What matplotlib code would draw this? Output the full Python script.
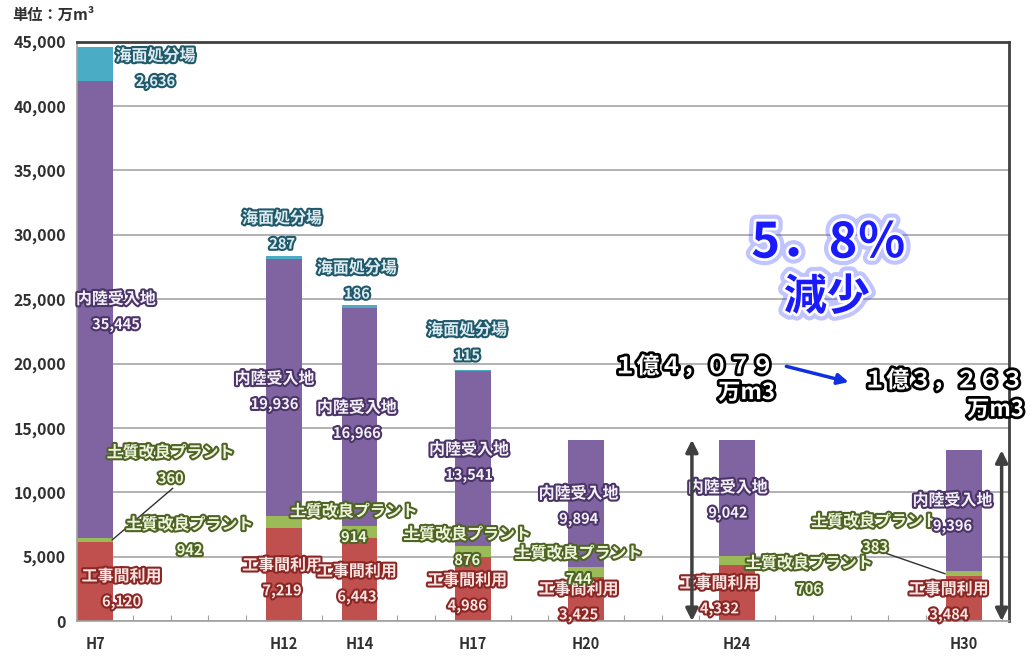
import matplotlib
matplotlib.use("Agg")
import matplotlib.pyplot as plt
import matplotlib.patheffects as pe
import numpy as np

plt.rcParams['font.family'] = ['Noto Sans CJK JP', 'DejaVu Sans']

# data (万m3)
years = np.array([7, 12, 14, 17, 20, 24, 30])
year_labels = ['H7', 'H12', 'H14', 'H17', 'H20', 'H24', 'H30']
koji = np.array([6120, 7219, 6443, 4986, 3425, 4332, 3484])       # 工事間利用
plant = np.array([360, 942, 914, 876, 744, 706, 383])             # 土質改良プラント
nairiku = np.array([35445, 19936, 16966, 13541, 9894, 9042, 9396])  # 内陸受入地
kaimen = np.array([2636, 287, 186, 115, 0, 0, 0])                 # 海面処分場

series = [('工事間利用', koji, '#c0504d', '#fbe3e2', '#8a2725'),
          ('土質改良プラント', plant, '#9bbb59', '#eef5dc', '#4f6424'),
          ('内陸受入地', nairiku, '#8064a2', '#f4f0f8', '#4a3468'),
          ('海面処分場', kaimen, '#4bacc6', '#dcecf1', '#20596a')]

# label positions (x in year units, y in 万m3) for each series/bar
label_pos = {
    '工事間利用': [(7.7, 3485), (11.95, 4340), (13.93, 3870), (16.85, 3175), (19.8, 2480), (23.53, 2940), (29.6, 2480)],
    '土質改良プラント': [(9.0, 13090), (9.5, 7510), (13.85, 8520), (16.85, 6740), (19.8, 5270), (25.9, 4490), (27.65, 7745)],
    '内陸受入地': [(7.55, 25020), (11.75, 18820), (13.93, 16570), (16.9, 13320), (19.8, 9910), (23.75, 10380), (29.7, 9370)],
    '海面処分場': [(8.6, 43900), (11.95, 31290), (13.93, 27420), (16.85, 22620), None, None, None],
}

fig = plt.figure(figsize=(10.34, 6.6), dpi=100)
ax = fig.add_axes([0.0745, 0.059, 0.9015, 0.878])

bottom = np.zeros(len(years))
for name, vals, col, fill, edge in series:
    ax.bar(years, vals, width=0.95, bottom=bottom, color=col, zorder=2)
    for i, pos in enumerate(label_pos[name]):
        if pos is None or vals[i] == 0:
            continue
        eff = [pe.withStroke(linewidth=3, foreground=edge)]
        ax.text(pos[0], pos[1], name, ha='center', va='center', fontsize=11.5,
                fontweight='bold', color=fill, path_effects=eff, zorder=5)
        ax.text(pos[0], pos[1] - 1990, f'{vals[i]:,}', ha='center', va='center',
                fontsize=10.5, fontweight='bold', color=fill, path_effects=eff, zorder=5)
    bottom += vals

totals = bottom

# leader lines for small plant segments
ax.plot([7.45, 9.05], [koji[0] + plant[0] / 2, 10300], color='#303030', lw=1, zorder=4)
ax.plot([27.95, 29.5], [5250, koji[6] + plant[6] / 2], color='#303030', lw=1, zorder=4)

# double arrows showing totals
for xa, tot in [(22.8, totals[5]), (31.0, totals[6])]:
    ax.annotate('', xy=(xa, tot), xytext=(xa, 0),
                arrowprops=dict(arrowstyle='<|-|>', color='#404040', lw=2.5,
                                mutation_scale=18, shrinkA=0, shrinkB=0), zorder=6)

# totals text
white_black = [pe.withStroke(linewidth=4, foreground='black')]
ax.text(22.85, 19750, '１億４，０７９', ha='center', va='center', fontsize=16.5, fontweight='bold',
        color='white', path_effects=white_black, zorder=7)
ax.text(24.25, 17740, '万m3', ha='center', va='center', fontsize=16, fontweight='bold',
        color='white', path_effects=white_black, zorder=7)
ax.text(29.46, 18660, '１億３，２６３', ha='center', va='center', fontsize=16.5, fontweight='bold',
        color='white', path_effects=white_black, zorder=7, clip_on=False)
ax.text(30.84, 16420, '万m3', ha='center', va='center', fontsize=16, fontweight='bold',
        color='white', path_effects=white_black, zorder=7, clip_on=False)
ax.annotate('', xy=(26.95, 18560), xytext=(25.3, 19780),
            arrowprops=dict(arrowstyle='-|>', color='#1030e0', lw=2.5, mutation_scale=16,
                            shrinkA=0, shrinkB=0), zorder=7)

pct = (totals[5] - totals[6]) / totals[5] * 100
glow = [pe.Stroke(linewidth=10, foreground='#3040ff', alpha=0.3),
        pe.Stroke(linewidth=4, foreground='white'), pe.Normal()]
ax.text(26.42, 29350, f'{int(pct)}．{int(round(pct * 10)) % 10}％', ha='center', va='center',
        fontsize=35, fontweight='bold', color='#1a1aff', path_effects=glow, zorder=7)
ax.text(26.37, 25170, '減少', ha='center', va='center', fontsize=31, fontweight='bold',
        color='#1a1aff', path_effects=glow, zorder=7)

# axes styling
ax.set_xlim(6.52, 31.2)
ax.set_ylim(0, 45000)
ax.set_yticks(np.arange(0, 45001, 5000))
ax.set_yticklabels([f'{v:,}' for v in range(0, 45001, 5000)], fontsize=11.5,
                   fontweight='bold', color='#303030')
ax.set_xticks(np.arange(7, 32))
ax.set_xticklabels([year_labels[list(years).index(y)] if y in years else '' for y in range(7, 32)],
                   fontsize=10.5, fontweight='bold', color='#303030')
ax.tick_params(axis='x', direction='in', length=4, color='#a0a0a0', pad=11)
ax.tick_params(axis='y', length=0, pad=8)
ax.yaxis.grid(True, color='#a6a6a6', lw=1.2, zorder=0)
ax.set_axisbelow(True)
for s in ['top', 'right']:
    ax.spines[s].set_color('#404040')
    ax.spines[s].set_linewidth(2)
for s in ['left', 'bottom']:
    ax.spines[s].set_color('#a0a0a0')
    ax.spines[s].set_linewidth(1.2)

fig.text(0.012, 0.978, '単位：万m³', fontsize=11, fontweight='bold', color='#303030',
         ha='left', va='center')

fig.savefig('out.png', dpi=100)
